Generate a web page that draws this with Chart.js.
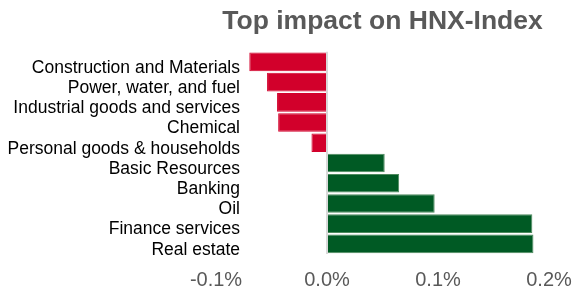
<!DOCTYPE html>
<html>
<head>
<meta charset="utf-8">
<script src="https://cdn.jsdelivr.net/npm/chart.js@4"></script>
<style>
  html, body { margin: 0; padding: 0; background: #fff; }
  #wrap { width: 574px; height: 286px; }
</style>
</head>
<body>
<div id="wrap"><canvas id="myChart" width="574" height="286"></canvas></div>
<script>
/* Data */
const sectors = ["Construction and Materials", "Power, water, and fuel", "Industrial goods and services", "Chemical", "Personal goods & households", "Basic Resources", "Banking", "Oil", "Finance services", "Real estate"];
const impact = [-0.070, -0.054, -0.045, -0.044, -0.014, 0.052, 0.065, 0.097, 0.185, 0.186];
const xTicks = [-0.1, 0.0, 0.1, 0.2];

const barColors = impact.map(v => v < 0 ? "#d2002b" : "#005a24");
const borderColors = impact.map(v => v < 0 ? "#d2002b" : "#4e8a5e");
const font = "'Liberation Sans', Arial, sans-serif";

new Chart("myChart", {
  type: "bar",
  data: {
    labels: sectors,
    datasets: [{
      data: impact,
      backgroundColor: barColors,
      borderColor: borderColors,
      borderWidth: 1,
      categoryPercentage: 0.92,
      barPercentage: 1.0
    }]
  },
  options: {
    indexAxis: "y",
    responsive: false,
    animation: false,
    layout: { padding: 0 },
    plugins: {
      legend: { display: false },
      tooltip: { enabled: false },
      title: {
        display: true,
        text: "Top impact on HNX-Index",
        fullSize: false,
        color: "#595959",
        font: { family: font, size: 26.5, weight: "bold" },
        padding: { top: 6, bottom: 14 }
      }
    },
    scales: {
      x: {
        min: xTicks[0],
        max: xTicks[xTicks.length - 1],
        afterBuildTicks: s => { s.ticks = xTicks.map(v => ({ value: v })); },
        afterFit: s => { s.height = 32; s.paddingRight = 25; s.paddingLeft = 0; },
        border: { display: false },
        grid: {
          drawTicks: false,
          color: c => (c.tick && c.tick.value === 0) ? "#d9d9d9" : "rgba(0,0,0,0)",
          lineWidth: 2
        },
        ticks: {
          padding: 14,
          color: "#595959",
          font: { family: font, size: 20 },
          callback: v => Number(v).toFixed(1) + "%"
        }
      },
      y: {
        // labels sit partly over the plot area, so no clipping to the axis box
        afterFit: s => { s.width = 216; s._computeLabelArea = () => undefined; },
        border: { display: false },
        grid: { display: false },
        ticks: {
          padding: -32,
          labelOffset: 6,
          color: "#000",
          autoSkip: false,
          font: { family: font, size: 17.5 }
        }
      }
    }
  }
});
</script>
</body>
</html>
